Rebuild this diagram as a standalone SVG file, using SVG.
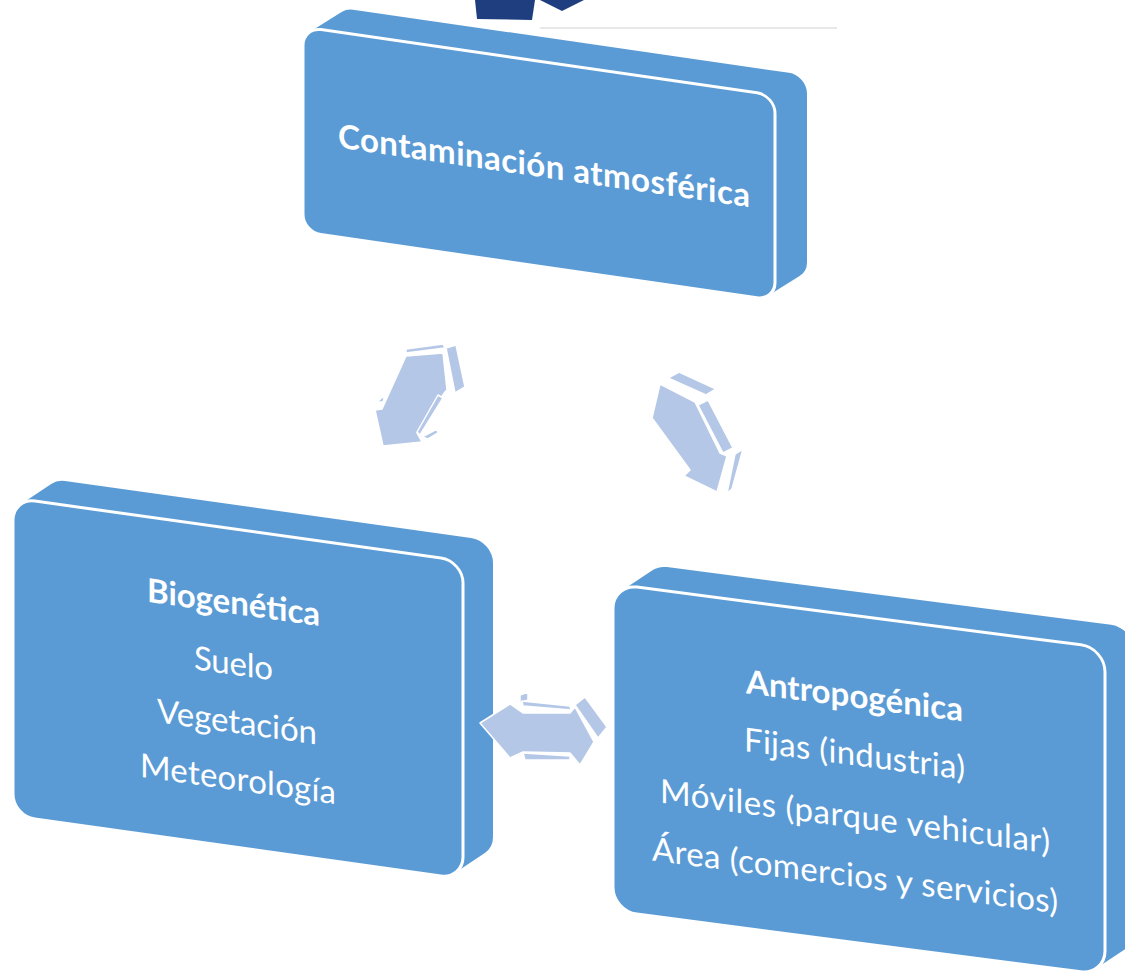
<svg xmlns="http://www.w3.org/2000/svg" width="1125" height="977" viewBox="0 0 1125 977">
<style>
.side{fill:#5B9BD5}
.front{fill:#5B9BD5;stroke:#FFFFFF;stroke-width:3}
.t{font-family:Lato,"Open Sans","Liberation Sans",sans-serif;fill:#FFFFFF;font-size:33px;text-anchor:middle}
.b{font-weight:bold}
.arr{fill:#B4C7E7;stroke:#FFFFFF;stroke-width:1.5;stroke-linejoin:round}
</style>
<rect width="1125" height="977" fill="#FFFFFF"/>
<line x1="540" y1="28" x2="837" y2="28" stroke="#E8E8E8" stroke-width="2"/>
<polygon points="475,0 477,19 532,20 535,0" fill="#1F3E7F"/>
<polygon points="540,0 584,0 562,11" fill="#1F3E7F"/>

<g id="node-contaminacion" transform="translate(303,27) skewY(8.25)">
  <path class="side" d="M7.03,3.73 L39.03,-20.87 A18,18 0 0 1 50,-24.6 H486 A18,18 0 0 1 504,-6.6 V162.4 A18,18 0 0 1 496.97,176.67 L464.97,201.27 A18,18 0 0 1 454,205 H18 A18,18 0 0 1 0,187 V18 A18,18 0 0 1 7.03,3.73 Z"/>
  <rect class="front" x="0" y="0" width="472" height="205" rx="18" ry="18"/>
  <text class="t b" x="241" y="115.5" textLength="412">Contaminación atmosférica</text>
</g>

<g id="node-biogenetica" transform="translate(13,498) skewY(7.97)">
  <path class="side" d="M8.19,4.88 L38.19,-19.32 A22,22 0 0 1 52,-24.2 H458 A22,22 0 0 1 480,-2.2 V271.8 A22,22 0 0 1 471.81,288.92 L441.81,313.12 A22,22 0 0 1 428,318 H22 A22,22 0 0 1 0,296 V22 A22,22 0 0 1 8.19,4.88 Z"/>
  <rect class="front" x="0" y="0" width="450" height="318" rx="22" ry="22"/>
  <text class="t b" x="220.5" y="85" textLength="173">Biogenética</text>
  <text class="t" x="220.5" y="146" textLength="79">Suelo</text>
  <text class="t" x="224" y="204" textLength="160">Vegetación</text>
  <text class="t" x="225" y="261" textLength="196">Meteorología</text>
</g>

<g id="node-antropogenica" transform="translate(613,584) skewY(7.41)">
  <path class="side" d="M9.05,5.23 L39.05,-18.67 A24,24 0 0 1 54,-23.9 H498 A24,24 0 0 1 522,0.1 V279.1 A24,24 0 0 1 512.95,297.87 L482.95,321.77 A24,24 0 0 1 468,327 H24 A24,24 0 0 1 0,303 V24 A24,24 0 0 1 9.05,5.23 Z"/>
  <rect class="front" x="0" y="0" width="492" height="327" rx="24" ry="24"/>
  <text class="t b" x="241.5" y="92" textLength="217">Antropogénica</text>
  <text class="t" x="241.5" y="150" textLength="221">Fijas (industria)</text>
  <text class="t" x="242" y="212.5" textLength="390">Móviles (parque vehicular)</text>
  <text class="t" x="242" y="271.5" textLength="406">Área (comercios y servicios)</text>
</g>

<g id="connectors">
  <g id="arrow-bio-top">
    <polygon class="arr" points="406,349 443,344 445,348 406,353"/>
    <polygon class="arr" points="446,348 456,345 465,387 455,393"/>
    <polygon class="arr" points="406,356 443,353 447,390 445,392 417,433 422,442 383,446 375,410 382,409"/>
    <polygon class="arr" points="377,402 385,395 383,402"/>
    <polygon class="arr" points="438,395 443,398 420,435 417,432"/>
    <polygon class="arr" points="422,437 437,429 438,433 428,439"/>
  </g>
  <g id="arrow-top-antro">
    <polygon class="arr" points="668,378 679,372 716,389 706,395"/>
    <polygon class="arr" points="660,384 695,402 720,453 727,456 717,492 684,476 690,470 652,418"/>
    <polygon class="arr" points="698,405 708,400 733,448 723,453"/>
    <polygon class="arr" points="735,454 743,449 732,489 727,493"/>
  </g>
  <g id="arrow-bio-antro">
    <polygon class="arr" points="520,695 528,692 528,700 520,703"/>
    <polygon class="arr" points="522,701 570,706 571,710 523,706"/>
    <polygon class="arr" points="575,705 585,697 607,727 598,738"/>
    <polygon class="arr" points="523,753 570,756 570,760 525,760"/>
    <polygon class="arr" points="480,723 510,704 523,713 570,713 575,707 594,742 580,765 570,753 523,752 510,758"/>
  </g>
</g>
</svg>
